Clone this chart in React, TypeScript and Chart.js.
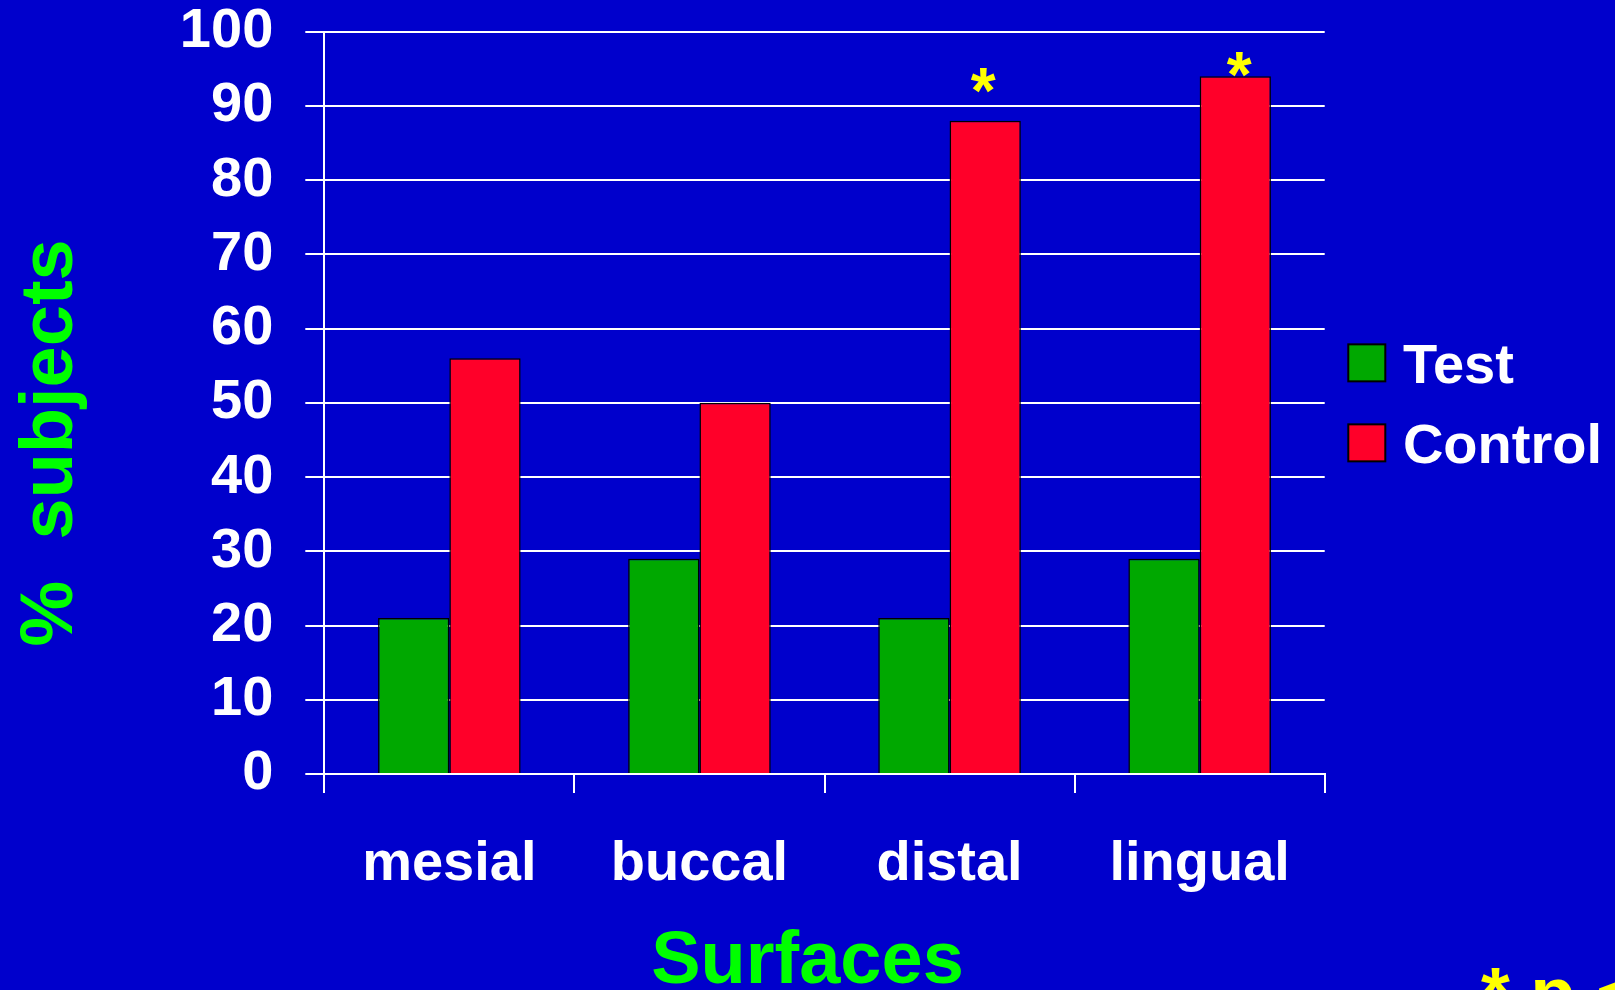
import { useEffect, useRef } from "react";
import { Chart, registerables } from "chart.js";

Chart.register(...registerables);

// Surfaces compared and the share of subjects per group (%)
const surfaces = ["mesial", "buccal", "distal", "lingual"];
const testValues = [21, 29, 21, 29];
const controlValues = [56, 50, 88, 94];
const seriesNames = ["Test", "Control"];
// Significance marks drawn over the Control bars
const significance = ["", "", "*", "*"];
const yMin = 0;
const yMax = 100;
const yStep = 10;
const xTitle = "Surfaces";
const yTitle = "%  subjects";
const footnote = "* p < 0.05";

const FONT = "'Liberation Sans', Arial, Helvetica, sans-serif";
const BG = "#0000CC";
const GREEN_BAR = "#00A800";
const RED_BAR = "#FF0029";
const TITLE_GREEN = "#00FF00";
const YELLOW = "#FFFF00";
const WHITE = "#FFFFFF";

// Extra lift (px) and nudge of each significance mark relative to its bar top
const markLift = [0, 0, 40, 11];
const markNudge = [0, 0, -2, 4];
const MARK_SIZE = 64;

// Legend key geometry
const KEY_SIZE = 37;
const KEY_ROW = 80;

const overlayPlugin = {
  id: "overlayText",
  afterDraw(chart: any) {
    const { ctx, chartArea } = chart;
    const meta = chart.getDatasetMeta(1);

    ctx.save();
    // significance asterisks above the Control bars
    ctx.fillStyle = YELLOW;
    ctx.font = `bold ${MARK_SIZE}px ${FONT}`;
    ctx.textAlign = "center";
    ctx.textBaseline = "alphabetic";
    significance.forEach((mark, i) => {
      if (!mark) return;
      const bar = meta.data[i];
      const cy = bar.y - markLift[i];
      ctx.fillText(mark, bar.x + markNudge[i], cy + MARK_SIZE * 0.5);
    });

    // legend keys, stacked and centred on the plot height
    const datasets = chart.data.datasets;
    const midY = (chartArea.top + chartArea.bottom) / 2;
    const firstCenter = midY - ((datasets.length - 1) * KEY_ROW) / 2;
    const keyLeft = chartArea.right + 23.6;
    ctx.textAlign = "left";
    ctx.textBaseline = "alphabetic";
    ctx.font = `bold 56px ${FONT}`;
    datasets.forEach((ds: any, i: number) => {
      const cy = firstCenter + i * KEY_ROW;
      const top = cy - KEY_SIZE / 2;
      ctx.fillStyle = ds.backgroundColor;
      ctx.fillRect(keyLeft, top, KEY_SIZE, KEY_SIZE);
      ctx.lineWidth = 2;
      ctx.strokeStyle = "#000000";
      ctx.strokeRect(keyLeft, top, KEY_SIZE, KEY_SIZE);
      ctx.fillStyle = WHITE;
      ctx.fillText(ds.label, keyLeft + KEY_SIZE + 17.6, cy + 20.5);
    });

    // axis titles
    ctx.fillStyle = TITLE_GREEN;
    ctx.font = `bold 74px ${FONT}`;
    ctx.textAlign = "center";
    ctx.textBaseline = "alphabetic";
    ctx.fillText(xTitle, (chartArea.left + chartArea.right) / 2 - 17, 983);

    ctx.save();
    ctx.translate(chartArea.left - 252.6, midY + 40);
    ctx.rotate(-Math.PI / 2);
    ctx.fillText(yTitle, 0, 0);
    ctx.restore();

    // footnote in the lower right corner
    ctx.fillStyle = YELLOW;
    ctx.textAlign = "left";
    ctx.fillText(footnote, 1481, 1019);
    ctx.restore();
  },
};

export default function App() {
  const canvasRef = useRef<HTMLCanvasElement | null>(null);

  useEffect(() => {
    if (!canvasRef.current) return;
    const chart = new Chart(canvasRef.current, {
      type: "bar",
      data: {
        labels: surfaces,
        datasets: [
          {
            label: seriesNames[0],
            data: testValues,
            backgroundColor: GREEN_BAR,
            borderColor: "#000000",
            borderWidth: 1.5,
          },
          {
            label: seriesNames[1],
            data: controlValues,
            backgroundColor: RED_BAR,
            borderColor: "#000000",
            borderWidth: 1.5,
          },
        ],
      },
      options: {
        responsive: false,
        animation: false,
        devicePixelRatio: 1,
        datasets: {
          bar: {
            categoryPercentage: 0.57,
            barPercentage: 1,
          },
        },
        layout: {
          padding: { left: 0, right: 290.3, top: 31.7, bottom: 0 },
        },
        plugins: {
          tooltip: { enabled: false },
          legend: { display: false },
        },
        scales: {
          x: {
            afterFit(scale: any) {
              scale.height = 216;
            },
            border: { display: true, color: WHITE, width: 2 },
            grid: {
              offset: true,
              drawOnChartArea: false,
              drawTicks: true,
              tickLength: 19,
              color: WHITE,
              lineWidth: 2,
            },
            ticks: {
              color: WHITE,
              padding: 44,
              maxRotation: 0,
              autoSkip: false,
              font: { family: FONT, size: 56, weight: "bold", lineHeight: 1 },
            },
          },
          y: {
            min: yMin,
            max: yMax,
            afterFit(scale: any) {
              scale.width = 324.3;
              scale.paddingTop = 0;
              scale.paddingBottom = 0;
            },
            border: { display: true, color: WHITE, width: 2 },
            grid: {
              color: WHITE,
              lineWidth: 2,
              drawTicks: true,
              tickLength: 19,
            },
            ticks: {
              stepSize: yStep,
              color: WHITE,
              padding: 32,
              font: { family: FONT, size: 56, weight: "bold", lineHeight: 1 },
            },
          },
        },
      },
      plugins: [overlayPlugin],
    });
    return () => chart.destroy();
  }, []);

  return (
    <div
      style={{
        position: "fixed",
        left: 0,
        top: 0,
        width: 1615,
        height: 990,
        background: BG,
        overflow: "hidden",
      }}
    >
      <canvas ref={canvasRef} width={1615} height={990} style={{ display: "block" }} />
    </div>
  );
}
